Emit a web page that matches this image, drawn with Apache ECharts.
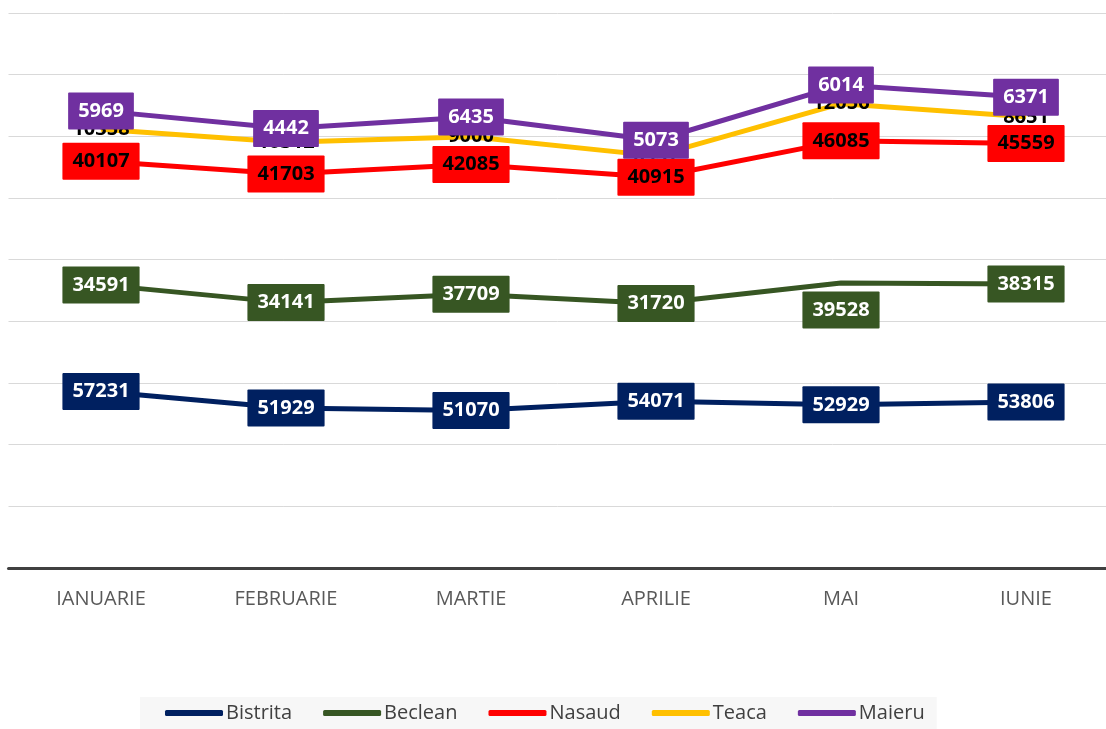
<!DOCTYPE html>
<html>
<head>
<meta charset="utf-8">
<script src="https://cdn.jsdelivr.net/npm/echarts@6/dist/echarts.min.js"></script>
<style>
  html, body { margin: 0; padding: 0; background: #fff; }
  #chart { width: 1106px; height: 729px; }
</style>
</head>
<body>
<div id="chart"></div>
<script>
// months on the x axis
const months = ["IANUARIE", "FEBRUARIE", "MARTIE", "APRILIE", "MAI", "IUNIE"];

// values per town (stacked in the original)
const bistrita = [57231, 51929, 51070, 54071, 52929, 53806];
const beclean = [34591, 34141, 37709, 31720, 39528, 38315];
const nasaud = [40107, 41703, 42085, 40915, 46085, 45559];
const teaca = [10358, 10312, 9000, 6957, 12056, 8651];
const maieru = [5969, 4442, 6435, 5073, 6014, 6371];

const chart = echarts.init(document.getElementById("chart"));

const boxLabel = (bg, fg) => ({
  show: true,
  position: "inside",
  backgroundColor: bg,
  color: fg,
  fontFamily: "Open Sans",
  fontWeight: "bold",
  fontSize: 20,
  lineHeight: 23,
  padding: [7, 10],
  borderRadius: 1
});

const makeSeries = (name, data, color, label, z) => ({
  name: name,
  type: "line",
  stack: "total",
  data: data,
  z: z,
  symbol: "circle",
  symbolSize: 1,
  showSymbol: true,
  showAllSymbol: true,
  lineStyle: { color: color, width: 5 },
  itemStyle: { color: color },
  label: label,
  labelLayout: { hideOverlap: false },
  emphasis: { disabled: true }
});

// Beclean's MAI label sits under the point
const becleanData = beclean.map((v, i) =>
  i === 4 ? { value: v, label: { position: "bottom", distance: 8 } } : v
);

const option = {
  animation: false,
  grid: { left: 8.5, right: -12.5, top: 13, bottom: 161, outerBoundsMode: "none" },
  legend: {
    bottom: 0,
    left: 140,
    icon: "roundRect",
    itemWidth: 58,
    itemHeight: 6,
    itemGap: 31,
    backgroundColor: "#f7f7f7",
    padding: [6, 12, 6, 25],
    textStyle: { fontFamily: "Open Sans", fontSize: 20, color: "#404040", padding: [0, 0, 0, -2] },
    data: ["Bistrita", "Beclean", "Nasaud", "Teaca", "Maieru"]
  },
  xAxis: {
    type: "category",
    data: months,
    boundaryGap: true,
    axisLine: { lineStyle: { color: "#404040", width: 3 } },
    axisTick: { show: false },
    axisLabel: { color: "#595959", fontFamily: "Open Sans", fontSize: 20, margin: 21 }
  },
  yAxis: {
    type: "value",
    min: 0,
    max: 180000,
    interval: 20000,
    axisLabel: { show: false },
    axisLine: { show: false },
    axisTick: { show: false },
    splitLine: { lineStyle: { color: "#d9d9d9", width: 1 } }
  },
  series: [
    makeSeries("Bistrita", bistrita, "#002060", boxLabel("#002060", "#ffffff"), 3),
    makeSeries("Beclean", becleanData, "#375623", boxLabel("#375623", "#ffffff"), 3),
    makeSeries("Nasaud", nasaud, "#ff0000", boxLabel("#ff0000", "#000000"), 3),
    makeSeries("Teaca", teaca, "#ffc000", {
      show: true,
      position: "inside",
      color: "#000000",
      fontFamily: "Open Sans",
      fontWeight: "bold",
      fontSize: 20
    }, 2),
    makeSeries("Maieru", maieru, "#7030a0", boxLabel("#7030a0", "#ffffff"), 4)
  ]
};

chart.setOption(option);
</script>
</body>
</html>
